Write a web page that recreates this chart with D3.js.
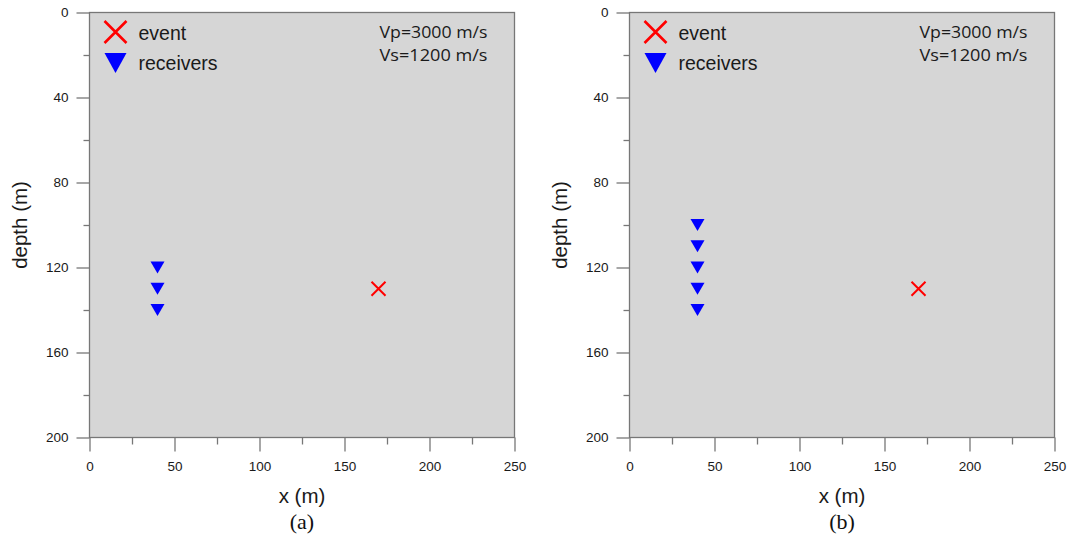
<!DOCTYPE html>
<html><head><meta charset="utf-8">
<script src="https://cdn.jsdelivr.net/npm/d3@7"></script>
<style>body{margin:0;background:#fff}svg{display:block}</style>
</head><body>
<svg id="c" width="1072" height="548"></svg>
<script>
const xTicks = [0, 50, 100, 150, 200, 250];
const yTicks = [0, 40, 80, 120, 160, 200];
const eventA = [{x: 170, depth: 130}];
const eventB = [{x: 170, depth: 130}];
const receiversA = [{x: 40, depth: 120}, {x: 40, depth: 130}, {x: 40, depth: 140}];
const receiversB = [{x: 40, depth: 100}, {x: 40, depth: 110}, {x: 40, depth: 120}, {x: 40, depth: 130}, {x: 40, depth: 140}];
const panelLabels = ["(a)", "(b)"];
const velocityText = ["Vp=3000 m/s", "Vs=1200 m/s"];

const svg = d3.select("#c");
const panels = [
  {left: 89.5, ev: eventA, rec: receiversA, label: panelLabels[0]},
  {left: 629.5, ev: eventB, rec: receiversB, label: panelLabels[1]}
];
const plotTop = 12.5, plotBottom = 437.5, W = 425;
const axisCol = "#777";
const txtCol = "#1a1a1a";

panels.forEach(p => {
  const g = svg.append("g");
  const x = d3.scaleLinear().domain([0, 250]).range([p.left, p.left + W]);
  const y = d3.scaleLinear().domain([0, 200]).range([plotTop, plotBottom]);
  g.append("rect").attr("x", p.left).attr("y", plotTop).attr("width", W).attr("height", plotBottom - plotTop)
    .attr("fill", "#d6d6d6").attr("stroke", axisCol).attr("stroke-width", 1.3);
  // ticks
  const xa = g.append("g").attr("transform", `translate(0,${plotBottom})`)
    .call(d3.axisBottom(x).tickValues(d3.range(0, 251, 25)).tickSize(0).tickFormat(""));
  xa.select(".domain").remove();
  xa.selectAll(".tick line").attr("y2", d => d % 50 === 0 ? 14 : 7).attr("stroke", axisCol).attr("stroke-width", 1.3);
  const xl = g.append("g").attr("transform", `translate(0,${plotBottom})`)
    .call(d3.axisBottom(x).tickValues(xTicks).tickSize(0).tickPadding(24));
  xl.select(".domain").remove();
  xl.selectAll("text").attr("font-family", "Liberation Sans, Arial").attr("font-size", 13.5).attr("fill", txtCol);

  const ya = g.append("g").attr("transform", `translate(${p.left},0)`)
    .call(d3.axisLeft(y).tickValues(d3.range(0, 201, 20)).tickSize(0).tickFormat(""));
  ya.select(".domain").remove();
  ya.selectAll(".tick line").attr("x2", d => d % 40 === 0 ? -13 : -6).attr("stroke", axisCol).attr("stroke-width", 1.3);
  const yl = g.append("g").attr("transform", `translate(${p.left},0)`)
    .call(d3.axisLeft(y).tickValues(yTicks).tickSize(0).tickPadding(21));
  yl.select(".domain").remove();
  yl.selectAll("text").attr("font-family", "Liberation Sans, Arial").attr("font-size", 13.5).attr("fill", txtCol);

  // receivers
  g.selectAll(".rec").data(p.rec).enter().append("path")
    .attr("d", "M-7,-6L7,-6L0,6Z").attr("fill", "#0000ff")
    .attr("transform", d => `translate(${x(d.x)},${y(d.depth)})`);
  // event
  g.selectAll(".ev").data(p.ev).enter().append("path")
    .attr("d", "M-7,-7L7,7M-7,7L7,-7").attr("stroke", "#ff0000").attr("stroke-width", 2).attr("fill", "none")
    .attr("transform", d => `translate(${x(d.x)},${y(d.depth)})`);

  // legend
  const lx = p.left + 26;
  g.append("path").attr("d", "M-11,-11L11,11M-11,11L11,-11").attr("stroke", "#ff0000").attr("stroke-width", 2.6)
    .attr("transform", `translate(${lx},32)`);
  g.append("path").attr("d", "M-11,-9L11,-9L0,11Z").attr("fill", "#0000ff").attr("transform", `translate(${lx},62)`);
  g.append("text").attr("x", lx + 23).attr("y", 40).text("event")
    .attr("font-family", "Liberation Sans, Arial").attr("font-size", 19.5).attr("fill", txtCol);
  g.append("text").attr("x", lx + 23).attr("y", 70).text("receivers")
    .attr("font-family", "Liberation Sans, Arial").attr("font-size", 19.5).attr("fill", txtCol);

  velocityText.forEach((t, i) => {
    g.append("text").attr("x", p.left + 290).attr("y", 38 + i * 23).text(t)
      .attr("font-family", "Open Sans, Noto Sans").attr("font-size", 17)
      .attr("textLength", 108).attr("lengthAdjust", "spacingAndGlyphs").attr("fill", txtCol);
  });

  // axis titles
  g.append("text").attr("x", x(125)).attr("y", 503).attr("text-anchor", "middle").text("x (m)")
    .attr("font-family", "Liberation Sans, Arial").attr("font-size", 20.5).attr("fill", txtCol);
  g.append("text").attr("transform", `translate(${p.left - 63},${y(100)}) rotate(-90)`).attr("text-anchor", "middle")
    .text("depth (m)").attr("font-family", "Liberation Sans, Arial").attr("font-size", 20.5).attr("fill", txtCol);
  g.append("text").attr("x", x(125)).attr("y", 529).attr("text-anchor", "middle").text(p.label)
    .attr("font-family", "Liberation Serif, Times New Roman").attr("font-size", 22).attr("fill", "#111");
});
</script>
</body></html>
